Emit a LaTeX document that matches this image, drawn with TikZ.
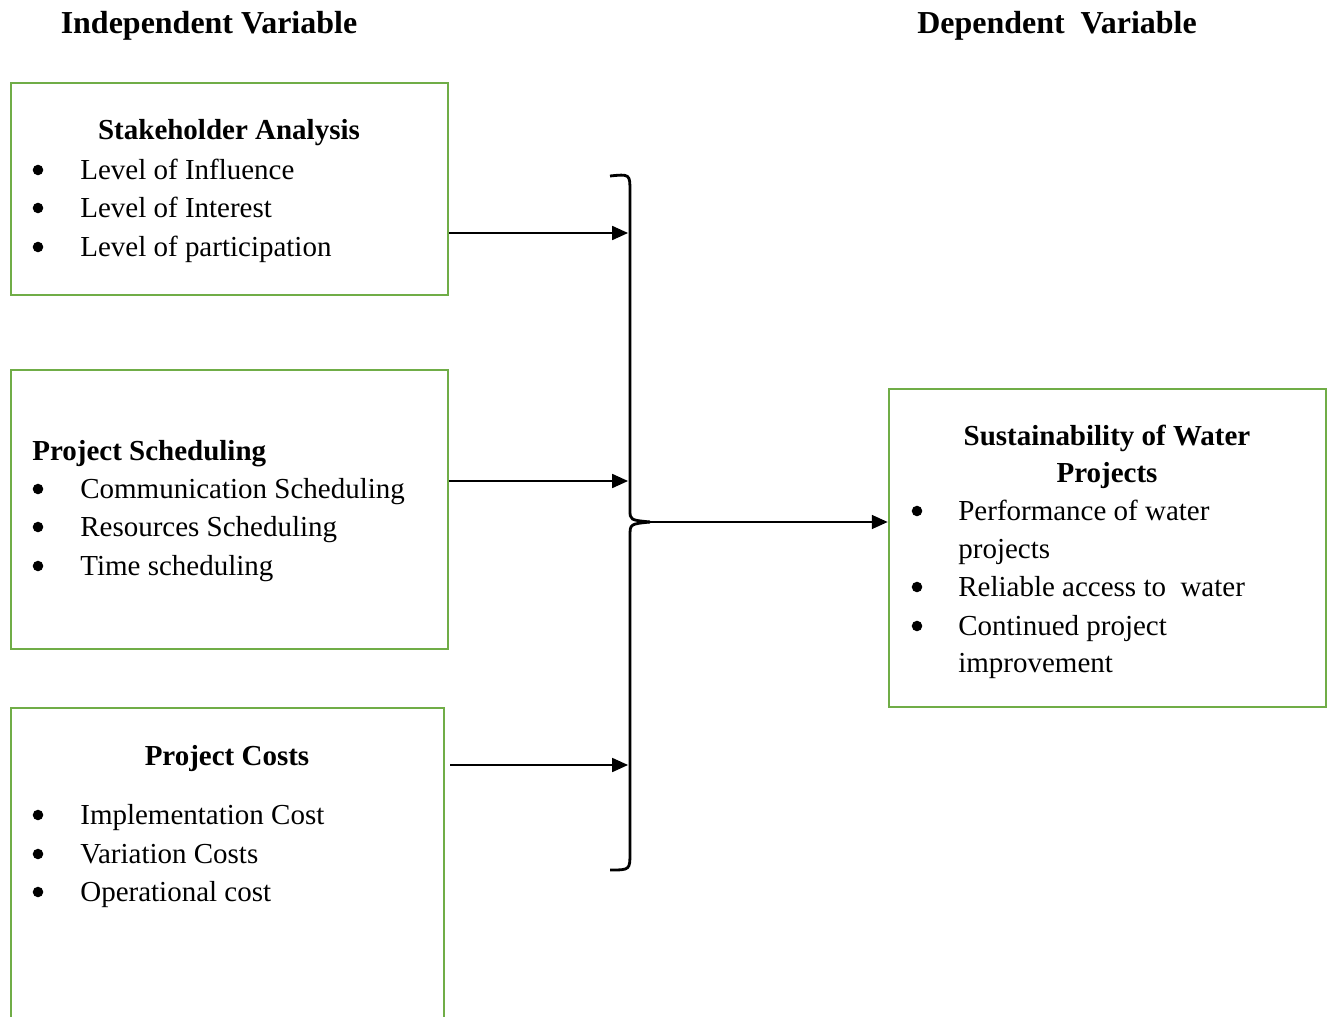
\documentclass[tikz,border=0pt]{standalone}
\usepackage{fontspec}
\setmainfont{Liberation Serif}
\usepackage{xcolor}
\usepackage{tikz}
\usetikzlibrary{positioning, arrows.meta, calc}

\definecolor{boxgreen}{RGB}{112,173,71}

\tikzset{
  box/.style={draw=boxgreen, line width=1.6pt, rectangle, inner sep=0pt},
  txt/.style={anchor=base west, inner sep=0pt, font=\fontsize{16.5}{21}\selectfont},
  bul/.style={circle, fill=black, inner sep=0pt, minimum size=6pt},
  ttl/.style={anchor=base, inner sep=0pt, font=\fontsize{16.5}{21}\selectfont\bfseries},
  head/.style={anchor=base, inner sep=0pt, font=\fontsize{18.2}{22}\selectfont\bfseries},
  arr/.style={-{Triangle[length=9pt,width=8pt]}, line width=0.8pt},
  brace/.style={line width=1.6pt}
}

\begin{document}
\begin{tikzpicture}[x=0.02cm, y=-0.02cm]
          \useasboundingbox (0,0) rectangle (1329,1017);

          % headings
          \node[head] (hind) at (209,34) {Independent Variable};
          \node[head] (hdep) at (1057,34) {Dependent \ Variable};

          % boxes
          \node[box, minimum width=8.74cm, minimum height=4.24cm] (sa) at (229.5,189) {};
          \node[box, minimum width=8.74cm, minimum height=5.58cm] (ps) at (229.5,509.5) {};
          \node[box, minimum width=8.74cm, minimum height=6.36cm] (sw) at (1107.5,548) {};
          \coordinate (pcl) at (11,1020);
          \coordinate (pcr) at (444,1020);
          \draw[draw=boxgreen, line width=1.6pt] (pcl) |- (227.5,708) -| (pcr);

          % stakeholder analysis
          \node[ttl] (sa-t) at (229,140) {Stakeholder Analysis};
          \node[bul] (sa-b1) at (38,170) {};
          \node[txt] (sa-1) at (80,179) {Level of Influence};
          \node[bul] (sa-b2) at (38,208) {};
          \node[txt] (sa-2) at (80,217) {Level of Interest};
          \node[bul] (sa-b3) at (38,247) {};
          \node[txt] (sa-3) at (80,256) {Level of participation};

          % project scheduling
          \node[txt, font=\fontsize{16.5}{21}\selectfont\bfseries] (ps-t) at (32,460) {Project Scheduling};
          \node[bul] (ps-b1) at (38,489) {};
          \node[txt] (ps-1) at (80,498) {Communication Scheduling};
          \node[bul] (ps-b2) at (38,527) {};
          \node[txt] (ps-2) at (80,536) {Resources Scheduling};
          \node[bul] (ps-b3) at (38,566) {};
          \node[txt] (ps-3) at (80,575) {Time scheduling};

          % project costs
          \node[ttl] (pc-t) at (227,765) {Project Costs};
          \node[bul] (pc-b1) at (38,815) {};
          \node[txt] (pc-1) at (80,824) {Implementation Cost};
          \node[bul] (pc-b2) at (38,854) {};
          \node[txt] (pc-2) at (80,863) {Variation Costs};
          \node[bul] (pc-b3) at (38,892) {};
          \node[txt] (pc-3) at (80,901) {Operational cost};

          % sustainability
          \node[ttl] (sw-t1) at (1107,445) {Sustainability of Water};
          \node[ttl] (sw-t2) at (1107,482) {Projects};
          \node[bul] (sw-b1) at (917,511) {};
          \node[txt] (sw-1) at (958,520) {Performance of water};
          \node[txt] (sw-1b) at (958,558) {projects};
          \node[bul] (sw-b2) at (917,587) {};
          \node[txt] (sw-2) at (958,596) {Reliable access to \ water};
          \node[bul] (sw-b3) at (917,626) {};
          \node[txt] (sw-3) at (958,635) {Continued project};
          \node[txt] (sw-3b) at (958,672) {improvement};

          % brace
          \coordinate (tip) at (650,522);
          \draw[brace] (610,176) .. controls (630,174) .. (630,192) -- (630,510)
                       .. controls (630,520) .. (tip);
          \draw[brace] (tip) .. controls (630,524) .. (630,536) -- (630,852)
                       .. controls (630,870) .. (610,870);
          \coordinate (e1) at (628,233);
          \coordinate (e2) at (628,481);
          \coordinate (e3) at (628,765);

          % arrows
          \draw[arr] (sa.east |- e1) -- (e1);
          \draw[arr] (ps.east |- e2) -- (e2);
          \draw[arr] (pcr |- e3) ++(6,0) -- (e3);
          \draw[arr] (tip) -- (tip -| sw.west);
        \end{tikzpicture}
\end{document}
